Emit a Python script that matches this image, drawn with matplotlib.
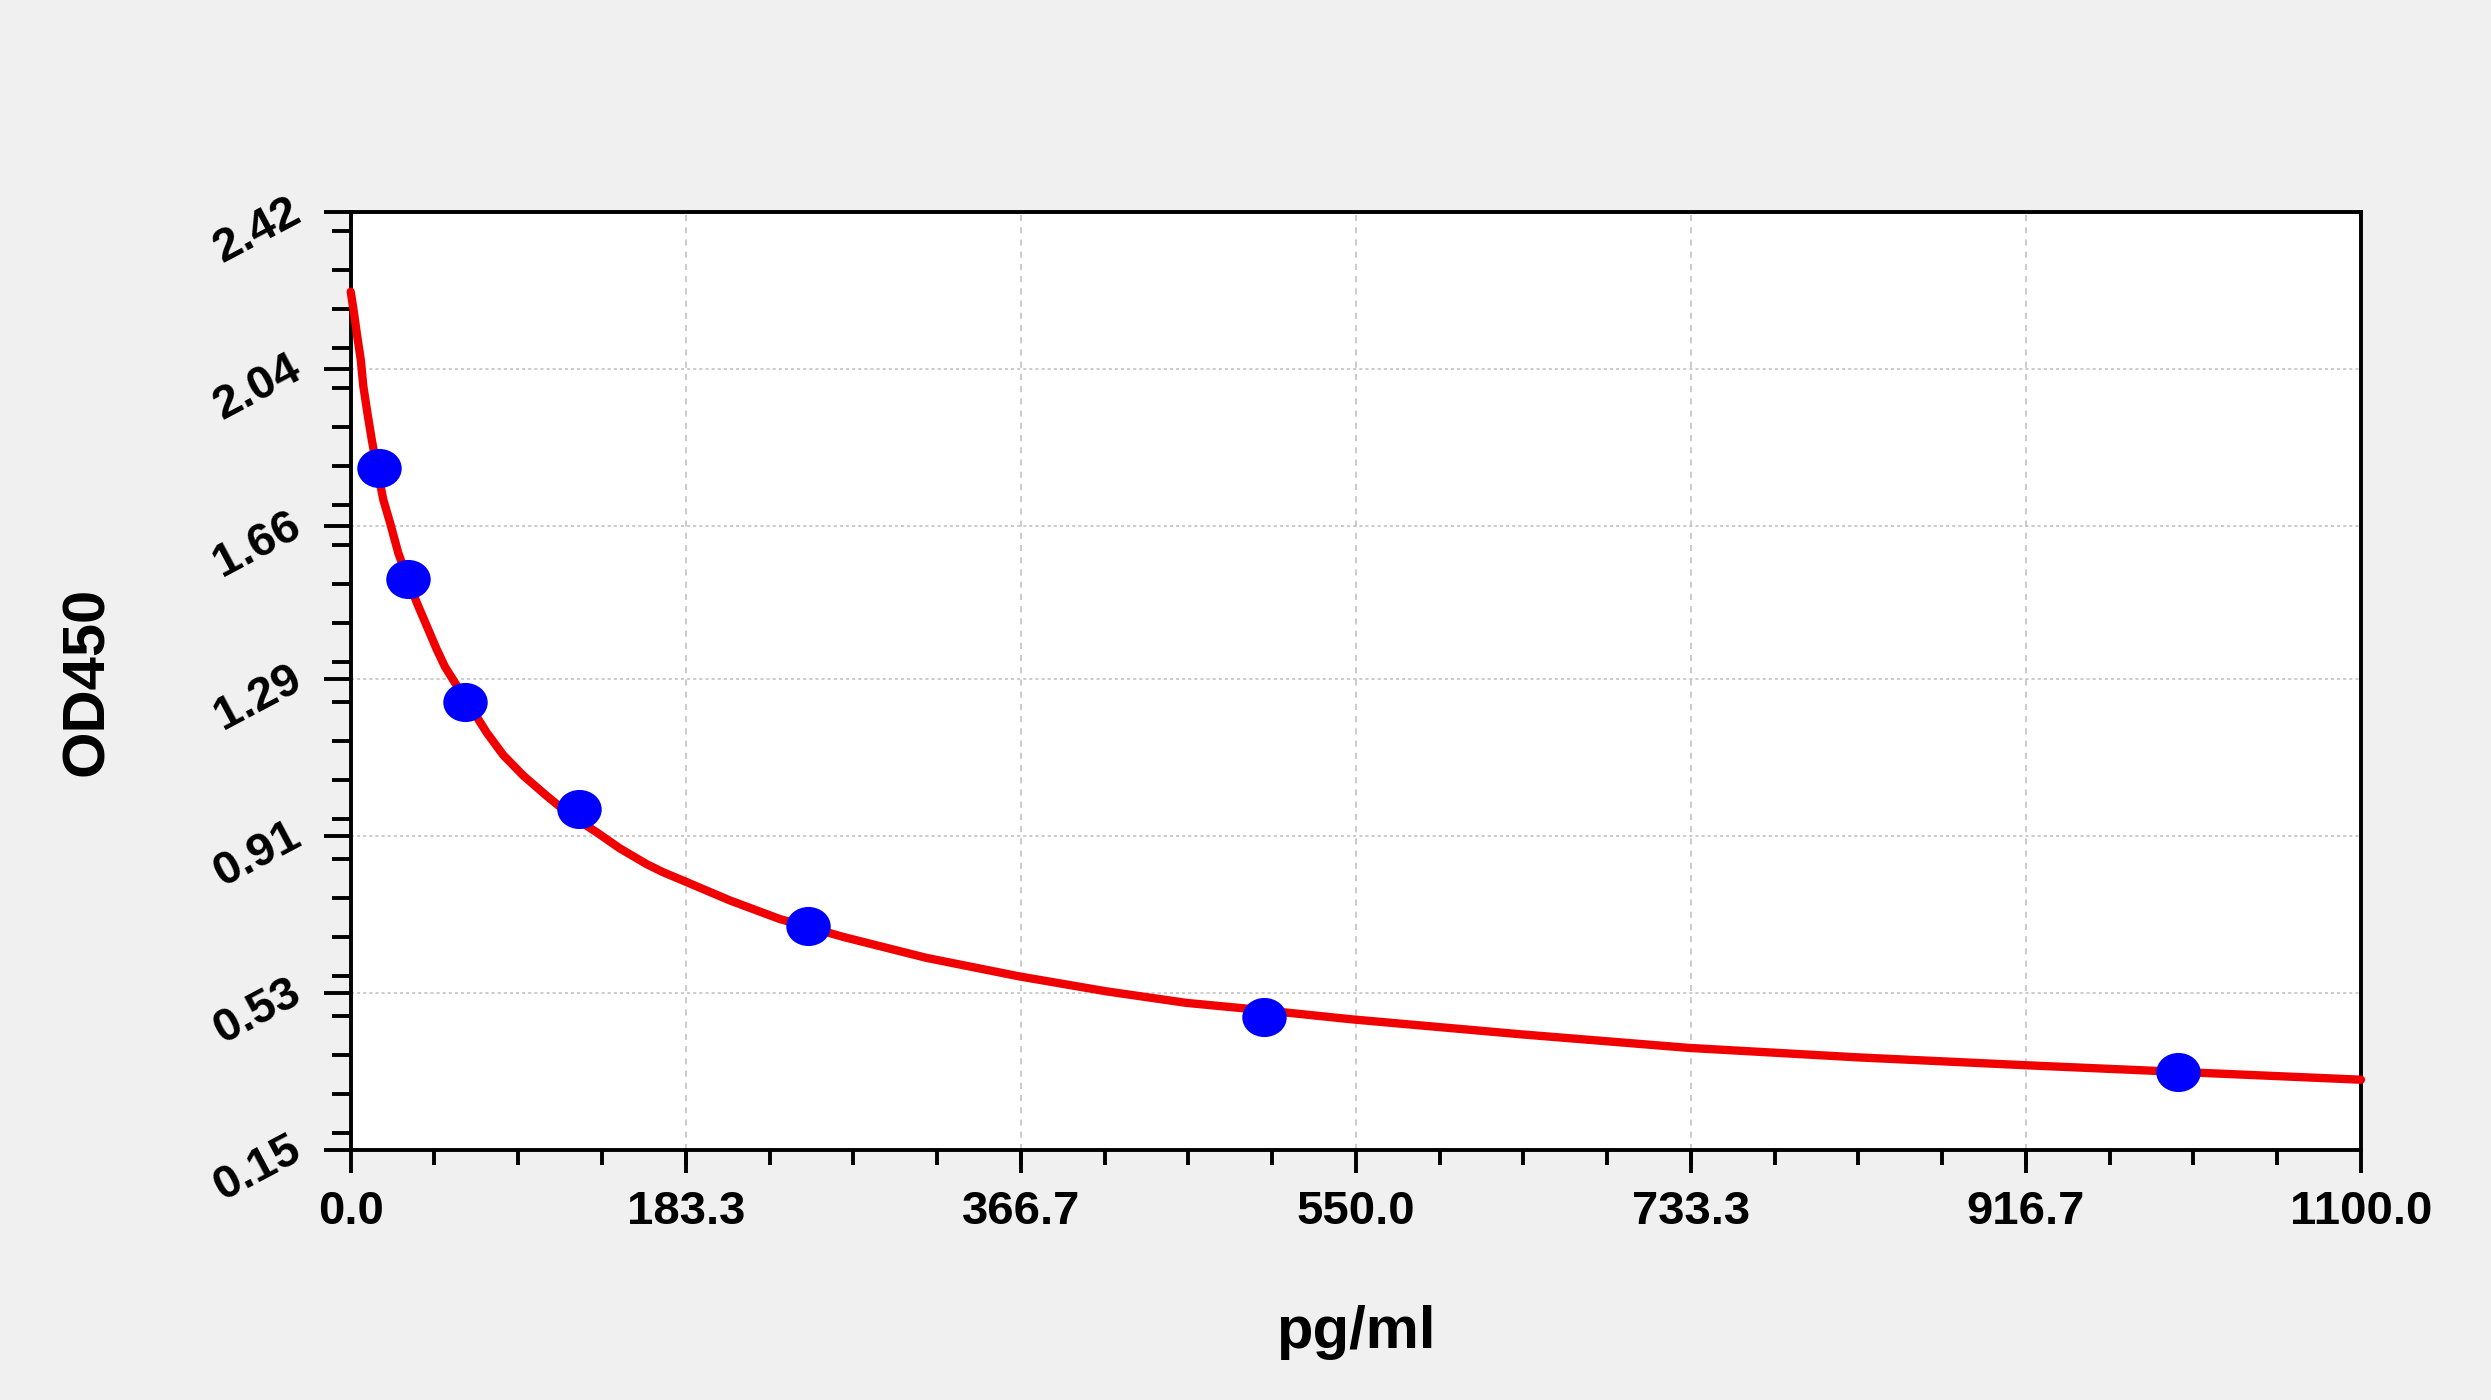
import numpy as np
import matplotlib
matplotlib.use("Agg")
import matplotlib.pyplot as plt
from matplotlib.ticker import FixedLocator, MultipleLocator
from matplotlib.path import Path
from matplotlib.transforms import Affine2D, ScaledTranslation

plt.rcParams['font.family'] = ['Liberation Sans', 'DejaVu Sans']

# ---- data ----
conc = [15.6, 31.25, 62.5, 125, 250, 500, 1000]
od = [1.801, 1.531, 1.233, 0.974, 0.693, 0.471, 0.339]

curve_x = [0, 1.8, 3.3, 5.5, 6.9, 9.1, 11.5, 14.2, 17.8, 21.5, 26.0, 30.6, 36.1,
           41.6, 47.0, 51.6, 57.0, 62.5, 67.0, 74.4, 83.4, 94.4, 107.2, 119.9, 134.5,
           147.2, 161.8, 171.0, 181.8, 207.4, 234.7, 270.0, 314.9, 365.9, 413.3,
           457.1, 500.0, 548.0, 640.0, 732.2, 825.0, 916.7, 1000.0, 1100.0]
curve_y = [2.227, 2.175, 2.127, 2.062, 1.998, 1.934, 1.869, 1.805, 1.724, 1.668,
           1.595, 1.539, 1.475, 1.418, 1.362, 1.319, 1.281, 1.241, 1.212, 1.160, 1.106,
           1.056, 1.007, 0.961, 0.919, 0.880, 0.842, 0.822, 0.802, 0.754, 0.709,
           0.665, 0.615, 0.570, 0.534, 0.506, 0.488, 0.466, 0.430, 0.397, 0.374,
           0.355, 0.339, 0.320]

x_ticks = [0.0, 183.3, 366.7, 550.0, 733.3, 916.7, 1100.0]
x_tick_labels = ['0.0', '183.3', '366.7', '550.0', '733.3', '916.7', '1100.0']
y_ticks = [0.15, 0.53, 0.91, 1.29, 1.66, 2.04, 2.42]
y_tick_labels = ['0.15', '0.53', '0.91', '1.29', '1.66', '2.04', '2.42']

x_label = 'pg/ml'
y_label = 'OD450'

# ---- figure ----
bg = '#f0f0f0'
fig = plt.figure(figsize=(24.91, 14.0), dpi=100, facecolor=bg)
ax = fig.add_axes([0.1408, 0.1786, 0.8070, 0.6700])
ax.set_facecolor('white')

ax.set_xlim(0, 1100)
ax.set_ylim(0.15, 2.42)

# grid
for xv in x_ticks[1:-1]:
    ax.axvline(xv, color='#bdbdbd', lw=1.1, ls=(0, (4, 4)), zorder=1)
for yv in y_ticks[1:-1]:
    ax.axhline(yv, color='#bdbdbd', lw=1.1, ls=(0, (2, 2)), zorder=1)

# curve
ax.plot(curve_x, curve_y, color='#f00000', lw=6.0, solid_capstyle='round',
        solid_joinstyle='round', zorder=3, clip_on=False)

# points (slightly wide ellipses)
ell = Path.unit_circle().transformed(Affine2D().scale(1.0, 0.88))
ax.plot(conc, od, ls='none', marker=ell, markersize=32, color='#0000ff',
        markeredgewidth=0, zorder=4)

# ticks
ax.xaxis.set_major_locator(FixedLocator(x_ticks))
ax.xaxis.set_minor_locator(MultipleLocator(1100 / 24))
ax.yaxis.set_major_locator(FixedLocator(y_ticks))
ax.yaxis.set_minor_locator(MultipleLocator(0.38 / 4))
ax.set_xticklabels(x_tick_labels)
ax.set_yticklabels(y_tick_labels)

ax.tick_params(axis='x', which='major', direction='out', length=16.5, width=2.8,
               pad=12, labelsize=34)
ax.tick_params(axis='x', which='minor', direction='out', length=11, width=2.8)
ax.tick_params(axis='y', which='major', direction='out', length=19.5, width=2.8,
               pad=18, labelsize=34)
ax.tick_params(axis='y', which='minor', direction='out', length=13.5, width=2.8)

for sp in ax.spines.values():
    sp.set_linewidth(2.8)
    sp.set_color('black')

for lab in ax.get_xticklabels():
    lab.set_fontweight('bold')
shift = ScaledTranslation(-2 / 72, 5 / 72, fig.dpi_scale_trans)
for lab in ax.get_yticklabels():
    lab.set_fontweight('bold')
    lab.set_rotation(28)
    lab.set_rotation_mode('anchor')
    lab.set_ha('right')
    lab.set_va('center_baseline')
    lab.set_transform(lab.get_transform() + shift)

ax.set_xlabel(x_label, fontsize=43, fontweight='bold', va='center')
ax.xaxis.set_label_coords(0.5, -0.195)
ax.set_ylabel(y_label, fontsize=43, fontweight='bold', va='center')
ax.yaxis.set_label_coords(-0.1308, 0.5)

fig.savefig('out.png', dpi=100, facecolor=bg)
